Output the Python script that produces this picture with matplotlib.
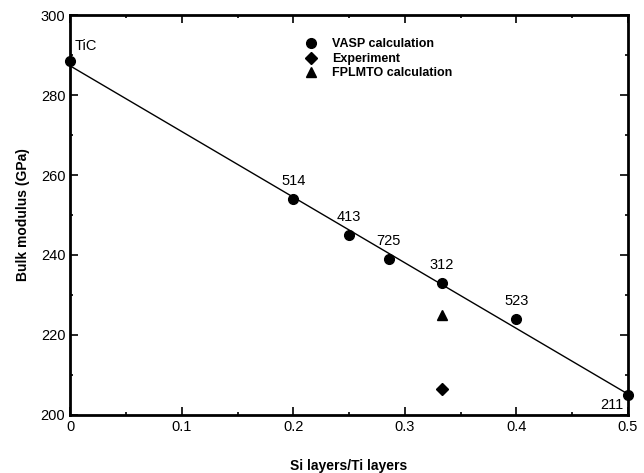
import matplotlib.pyplot as plt
from matplotlib.ticker import MultipleLocator, FuncFormatter

plt.rcParams['font.family'] = ['Liberation Sans', 'DejaVu Sans']

# VASP calculation points
vasp_x = [0.0, 0.2, 0.25, 0.2857, 0.3333, 0.4, 0.5]
vasp_y = [288.5, 254, 245, 239, 233, 224, 205]
vasp_labels = ['TiC', '514', '413', '725', '312', '523', '211']

exp_x = [0.3333]
exp_y = [206.5]

fplmto_x = [0.3333]
fplmto_y = [225]

# linear fit line
fit_x = [0.0, 0.5]
fit_y = [287.3, 205.2]

fig = plt.figure(figsize=(6.44, 4.73), dpi=100)
ax = fig.add_axes([0.109, 0.123, 0.866, 0.845])

ax.plot(fit_x, fit_y, color='black', lw=1.0, zorder=2)
ax.plot(vasp_x, vasp_y, 'o', color='black', ms=7, clip_on=False, zorder=3,
        label='VASP calculation')
ax.plot(exp_x, exp_y, 'D', color='black', ms=6, zorder=3, label='Experiment')
ax.plot(fplmto_x, fplmto_y, '^', color='black', ms=7, zorder=3,
        label='FPLMTO calculation')

# point labels
offsets = {'TiC': (3, 6, 'left'), '211': (-3, -7, 'right')}
for x, y, lab in zip(vasp_x, vasp_y, vasp_labels):
    dx, dy, ha = offsets.get(lab, (0, 8, 'center'))
    ax.annotate(lab, (x, y), xytext=(dx, dy), textcoords='offset points',
                ha=ha, va='bottom' if dy > 0 else 'center', fontsize=10.5)

ax.set_xlim(0, 0.5)
ax.set_ylim(200, 300)
ax.xaxis.set_major_locator(MultipleLocator(0.1))
ax.xaxis.set_minor_locator(MultipleLocator(0.05))
ax.yaxis.set_major_locator(MultipleLocator(20))
ax.yaxis.set_minor_locator(MultipleLocator(10))
ax.xaxis.set_major_formatter(FuncFormatter(lambda v, p: '%g' % round(v, 2)))
ax.tick_params(which='both', direction='in', top=True, right=True,
               labelsize=10.5)
ax.tick_params(which='major', length=6, width=1.2)
ax.tick_params(which='minor', length=2, width=1.2)
for s in ax.spines.values():
    s.set_linewidth(2)

ax.set_xlabel('Si layers/Ti layers', fontweight='bold', fontsize=10, labelpad=18)
ax.set_ylabel('Bulk modulus (GPa)', fontweight='bold', fontsize=10, labelpad=8)

ax.legend(loc='upper left', bbox_to_anchor=(0.40, 0.97), frameon=False,
          handlelength=1.0, handletextpad=1.2, labelspacing=0.2,
          prop={'weight': 'bold', 'size': 9})

fig.savefig('out.png', dpi=100)
